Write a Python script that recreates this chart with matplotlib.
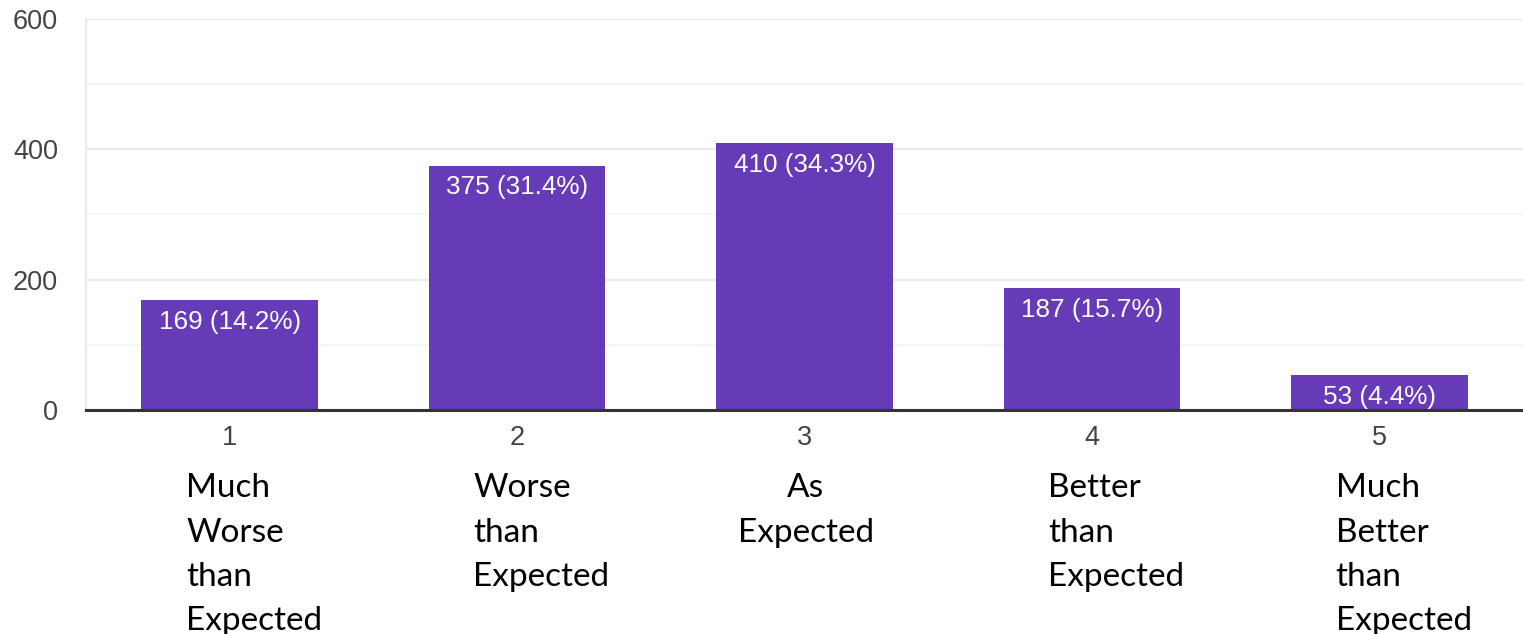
import matplotlib
matplotlib.use("Agg")
import matplotlib.pyplot as plt
from matplotlib.transforms import blended_transform_factory
from matplotlib.ticker import MultipleLocator

# Survey results: rating scale 1..5
ratings = [1, 2, 3, 4, 5]
counts = [169, 375, 410, 187, 53]
percents = [14.2, 31.4, 34.3, 15.7, 4.4]
descriptions = [
    ["Much", "Worse", "than", "Expected"],
    ["Worse", "than", "Expected"],
    ["As", "Expected"],
    ["Better", "than", "Expected"],
    ["Much", "Better", "than", "Expected"],
]
y_ticks = [0, 200, 400, 600]

W, H = 1523, 634
fig = plt.figure(figsize=(W / 100, H / 100), dpi=100)
fig.patch.set_facecolor("white")
ax = fig.add_axes([86 / W, 1 - 410 / H, 1437 / W, 391 / H])

bar_color = "#673ab7"
ax.bar(ratings, counts, width=0.615, color=bar_color, zorder=3)

ax.set_xlim(0.5, 5.5)
ax.set_ylim(0, 600)
ax.set_yticks(y_ticks)
ax.yaxis.set_minor_locator(MultipleLocator(100))
ax.grid(axis="y", which="major", color="#ebebeb", linewidth=1.6, zorder=0)
ax.grid(axis="y", which="minor", color="#f4f4f4", linewidth=1.2, zorder=0)
ax.grid(axis="x", visible=False)

for side in ("top", "right"):
    ax.spines[side].set_visible(False)
ax.spines["left"].set_color("#ebebeb")
ax.spines["left"].set_linewidth(1.6)
ax.spines["bottom"].set_color("#333333")
ax.spines["bottom"].set_linewidth(2.2)
ax.spines["bottom"].set_zorder(4)

ax.set_xticks(ratings)
ax.set_xticklabels([str(r) for r in ratings])
ax.tick_params(axis="both", which="both", length=0)
ax.tick_params(axis="y", pad=20, labelsize=19.5, labelcolor="#444444")
ax.tick_params(axis="x", pad=11, labelsize=19.5, labelcolor="#444444")
for lab in ax.get_xticklabels() + ax.get_yticklabels():
    lab.set_fontfamily("Liberation Sans")

# value labels inside the top of each bar
for x, c, p in zip(ratings, counts, percents):
    ax.annotate(f"{c} ({p}%)", xy=(x, c), xytext=(0, -7),
                textcoords="offset points", ha="center", va="top",
                color="white", fontsize=18.8, family="Liberation Sans",
                zorder=5)

# descriptive labels below the tick numbers
trans = blended_transform_factory(ax.transData, fig.transFigure)
first_baseline = 497
line_step = 44.5
for x, lines in zip(ratings, descriptions):
    centered = len(lines) == 2
    for k, word in enumerate(lines):
        ypix = first_baseline + k * line_step
        ax.text(x + 0.005 if centered else x - 0.152, 1 - ypix / H, word,
                transform=trans, ha="center" if centered else "left",
                va="baseline", fontsize=24, family="Lato",
                color="black", clip_on=False)

fig.savefig("out.png", dpi=100, facecolor="white")
